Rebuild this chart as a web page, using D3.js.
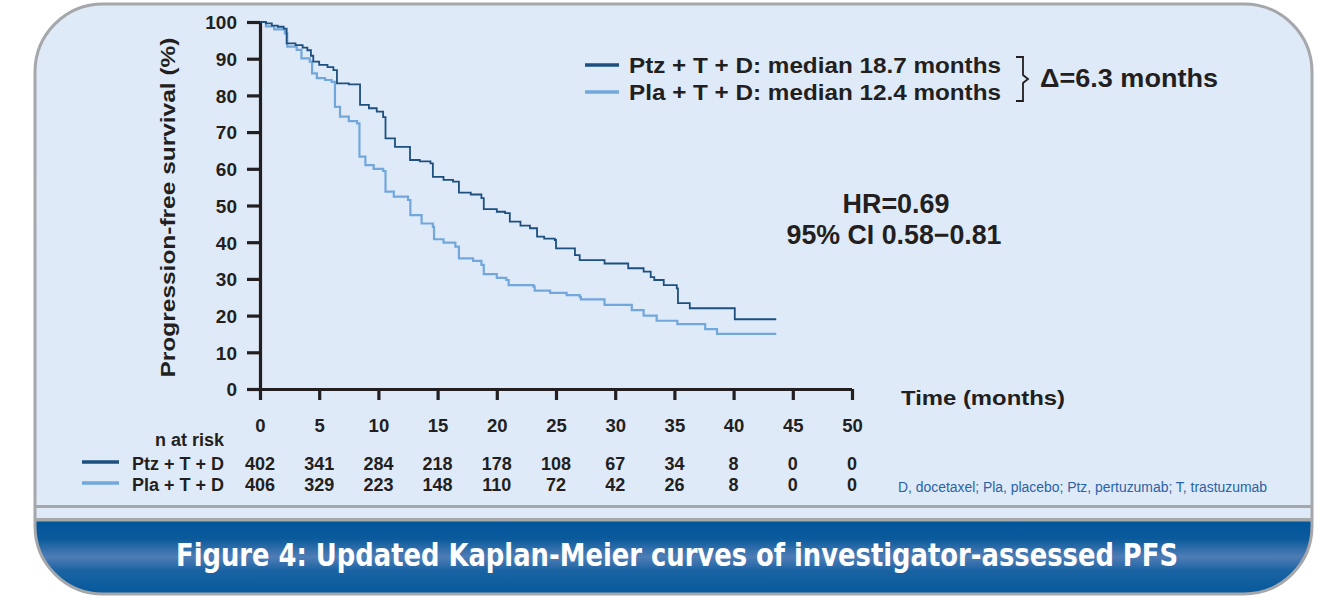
<!DOCTYPE html>
<html>
<head>
<meta charset="utf-8">
<script src="https://cdn.jsdelivr.net/npm/d3@7/dist/d3.min.js"></script>
<style>
  html, body { margin: 0; padding: 0; background: #ffffff; }
  svg { display: block; }
  text { font-family: "Liberation Sans", Arial, Helvetica, sans-serif; }
</style>
</head>
<body>
<svg id="chart" width="1338" height="613"></svg>
<script>
// ---------- data ----------
const xTicks = [0, 5, 10, 15, 20, 25, 30, 35, 40, 45, 50];
const yTicks = [0, 10, 20, 30, 40, 50, 60, 70, 80, 90, 100];

// Ptz + T + D : [time (months), survival (%)] - survival from that time onward
const ptzCurve = [
  [0, 100], [0.5, 99.6], [1.0, 99.0], [1.5, 98.7], [2.0, 98.2], [2.25, 94.2],
  [3.0, 93.7], [3.6, 93.0], [4.0, 92.3], [4.3, 90.8], [4.5, 89.2], [5.0, 88.3],
  [5.7, 87.7], [6.2, 86.9], [6.5, 83.3], [7.5, 83.0], [8.45, 77.4], [9.2, 76.5],
  [9.86, 75.6], [10.4, 74.1], [10.6, 68.3], [11.4, 66.0], [12.67, 62.4], [13.5, 62.0],
  [14.4, 61.5], [14.6, 57.8], [15.5, 57.0], [16.3, 56.5], [16.8, 53.5], [17.8, 53.0],
  [18.7, 52.0], [18.9, 49.0], [20.0, 48.3], [20.7, 47.9], [21.1, 45.6], [22.0, 44.5],
  [22.8, 43.8], [23.4, 41.5], [24.0, 41.0], [24.9, 40.6], [25.0, 38.3], [26.6, 36.5],
  [27.0, 35.1], [29.1, 34.2], [31.1, 32.9], [32.4, 32.0], [33.0, 30.5], [33.3, 29.7],
  [34.1, 28.3], [35.2, 27.4], [35.3, 23.4], [36.3, 22.0], [40.1, 19.0], [43.6, 19.0]
];

// Pla + T + D
const plaCurve = [
  [0, 100], [0.5, 98.8], [1.2, 98.0], [2.1, 96.9], [2.3, 93.3], [3.1, 92.4],
  [3.5, 90.1], [4.2, 89.2], [4.4, 86.0], [4.8, 84.7], [5.5, 84.2], [6.05, 83.7],
  [6.33, 76.9], [6.76, 74.2], [7.5, 73.0], [8.2, 72.4], [8.4, 63.3], [8.9, 61.0],
  [9.6, 60.0], [10.4, 59.4], [10.6, 53.8], [11.3, 52.4], [12.5, 51.5], [12.7, 47.4],
  [13.65, 45.1], [14.6, 44.2], [14.7, 40.8], [15.5, 39.9], [16.5, 38.8], [16.8, 35.6],
  [18.0, 34.9], [18.7, 33.8], [18.9, 31.3], [20.0, 30.3], [20.8, 29.7], [21.0, 28.3],
  [23.1, 27.9], [23.2, 26.8], [24.5, 26.2], [25.9, 25.6], [27.0, 25.1], [27.1, 24.4],
  [29.1, 22.9], [31.4, 21.5], [32.4, 20.0], [33.5, 18.6], [35.25, 17.7], [37.6, 16.3],
  [38.6, 15.0], [43.6, 15.0]
];

const riskPtz = [402, 341, 284, 218, 178, 108, 67, 34, 8, 0, 0];
const riskPla = [406, 329, 223, 148, 110, 72, 42, 26, 8, 0, 0];

const seriesNames = ["Ptz + T + D", "Pla + T + D"];
const legendLabels = ["Ptz + T + D: median 18.7 months", "Pla + T + D: median 12.4 months"];
const deltaLabel = "\u0394=6.3 months";
const hrLabels = ["HR=0.69", "95% CI 0.58\u22120.81"];
const yAxisTitle = "Progression-free survival (%)";
const xAxisTitle = "Time (months)";
const riskTitle = "n at risk";
const footnote = "D, docetaxel; Pla, placebo; Ptz, pertuzumab; T, trastuzumab";
const figTitle = "Figure 4: Updated Kaplan-Meier curves of investigator-assessed PFS";

// ---------- styling ----------
const darkBlue = "#1d4f7f";
const lightBlue = "#72a7dc";
const ink = "#231f20";
const bg = "#dfeaf8";
const frameGray = "#a5a7aa";

const svg = d3.select("#chart");

// ---------- frame ----------
const frame = { x: 35, y: 4, w: 1277, h: 590, r: 68 };
const defs = svg.append("defs");
defs.append("clipPath").attr("id", "frameClip")
  .append("rect").attr("x", frame.x).attr("y", frame.y).attr("width", frame.w)
  .attr("height", frame.h).attr("rx", frame.r).attr("ry", frame.r);

const grad = defs.append("linearGradient").attr("id", "bannerGrad")
  .attr("x1", 0).attr("y1", 0).attr("x2", 0).attr("y2", 1);
grad.append("stop").attr("offset", "0%").attr("stop-color", "#00569a");
grad.append("stop").attr("offset", "22%").attr("stop-color", "#0a5a9c");
grad.append("stop").attr("offset", "45%").attr("stop-color", "#4f7db6");
grad.append("stop").attr("offset", "62%").attr("stop-color", "#1a63a2");
grad.append("stop").attr("offset", "100%").attr("stop-color", "#00569a");

svg.append("rect").attr("x", frame.x).attr("y", frame.y).attr("width", frame.w)
  .attr("height", frame.h).attr("rx", frame.r).attr("ry", frame.r)
  .attr("fill", bg);

const clipG = svg.append("g").attr("clip-path", "url(#frameClip)");
clipG.append("rect").attr("x", frame.x).attr("y", 521).attr("width", frame.w)
  .attr("height", 80).attr("fill", "url(#bannerGrad)");
clipG.append("rect").attr("x", frame.x).attr("y", 505).attr("width", frame.w)
  .attr("height", 3).attr("fill", frameGray);
clipG.append("rect").attr("x", frame.x).attr("y", 518).attr("width", frame.w)
  .attr("height", 3.5).attr("fill", frameGray);

svg.append("rect").attr("x", frame.x).attr("y", frame.y).attr("width", frame.w)
  .attr("height", frame.h).attr("rx", frame.r).attr("ry", frame.r)
  .attr("fill", "none").attr("stroke", frameGray).attr("stroke-width", 3);

svg.append("text").attr("x", 677).attr("y", 566)
  .attr("text-anchor", "middle")
  .attr("fill", "#ffffff").attr("font-size", 32).attr("font-weight", "bold")
  .attr("textLength", 1002).attr("lengthAdjust", "spacingAndGlyphs")
  .style("font-family", "'Liberation Sans Narrow', 'DejaVu Sans Condensed', 'Liberation Sans', sans-serif")
  .text(figTitle);

// ---------- scales ----------
const x = d3.scaleLinear().domain([0, 50]).range([260, 852]);
const y = d3.scaleLinear().domain([0, 100]).range([389, 22]);

// ---------- axes ----------
const yAxis = d3.axisLeft(y).tickValues(yTicks).tickSize(13).tickPadding(10);
const gy = svg.append("g").attr("transform", `translate(${x(0)},0)`).call(yAxis);
const xAxis = d3.axisBottom(x).tickValues(xTicks).tickSize(11).tickPadding(32);
const gx = svg.append("g").attr("transform", `translate(0,${y(0)})`).call(xAxis);

[gx, gy].forEach(g => {
  g.select(".domain").attr("stroke", ink).attr("stroke-width", 3.2);
  g.selectAll(".tick line").attr("stroke", ink).attr("stroke-width", 3.2);
  g.selectAll(".tick text").attr("fill", ink).attr("font-size", 18.5)
    .attr("font-weight", "bold")
    .style("font-family", "'Liberation Sans', Arial, sans-serif");
});
gy.select(".domain").attr("d", `M0.5,${y(100)}V${y(0)}`);
gx.select(".domain").attr("d", `M${x(0)},0.5H${x(50)}`);
gy.selectAll(".tick text").attr("dy", "0.36em").attr("font-size", 19);
// x tick labels sit above the risk table
gx.selectAll(".tick text").attr("dy", 0).attr("y", 43);

svg.append("text")
  .attr("transform", `translate(175,${(y(0) + y(100)) / 2 + 2}) rotate(-90)`)
  .attr("text-anchor", "middle").attr("fill", ink)
  .attr("font-size", 21).attr("font-weight", "bold")
  .attr("textLength", 340).attr("lengthAdjust", "spacingAndGlyphs")
  .text(yAxisTitle);

svg.append("text").attr("x", 901).attr("y", 405)
  .attr("fill", ink).attr("font-size", 21).attr("font-weight", "bold")
  .attr("textLength", 164).attr("lengthAdjust", "spacingAndGlyphs")
  .text(xAxisTitle);

// ---------- curves ----------
const line = d3.line().x(d => x(d[0])).y(d => y(d[1])).curve(d3.curveStepAfter);
svg.append("path").datum(plaCurve).attr("d", line)
  .attr("fill", "none").attr("stroke", lightBlue).attr("stroke-width", 2.2);
svg.append("path").datum(ptzCurve).attr("d", line)
  .attr("fill", "none").attr("stroke", darkBlue).attr("stroke-width", 1.8);

// ---------- legend ----------
const legColors = [darkBlue, lightBlue];
const legY = [65, 92];
legendLabels.forEach((lab, i) => {
  svg.append("line").attr("x1", 585).attr("x2", 619).attr("y1", legY[i]).attr("y2", legY[i])
    .attr("stroke", legColors[i]).attr("stroke-width", 3.5);
  svg.append("text").attr("x", 629).attr("y", legY[i] + 8)
    .attr("fill", ink).attr("font-size", 22).attr("font-weight", "bold")
    .attr("textLength", 372).attr("lengthAdjust", "spacingAndGlyphs")
    .text(lab);
});
// brace
svg.append("path")
  .attr("d", "M1016,57 H1023 V75 L1028,79 L1023,83 V101 H1016")
  .attr("fill", "none").attr("stroke", ink).attr("stroke-width", 1.8);
svg.append("text").attr("x", 1040).attr("y", 87)
  .attr("fill", ink).attr("font-size", 25).attr("font-weight", "bold")
  .attr("textLength", 178).attr("lengthAdjust", "spacingAndGlyphs")
  .text(deltaLabel);

// ---------- HR ----------
svg.append("text").attr("x", 896).attr("y", 213).attr("text-anchor", "middle")
  .attr("fill", ink).attr("font-size", 27).attr("font-weight", "bold")
  .attr("textLength", 107).attr("lengthAdjust", "spacingAndGlyphs")
  .text(hrLabels[0]);
svg.append("text").attr("x", 894).attr("y", 244).attr("text-anchor", "middle")
  .attr("fill", ink).attr("font-size", 27).attr("font-weight", "bold")
  .attr("textLength", 215).attr("lengthAdjust", "spacingAndGlyphs")
  .text(hrLabels[1]);

// ---------- risk table ----------
svg.append("text").attr("x", 224).attr("y", 446).attr("text-anchor", "end")
  .attr("fill", ink).attr("font-size", 18).attr("font-weight", "bold").text(riskTitle);
const riskRows = [riskPtz, riskPla];
const rowBase = [470, 491];
const rowLineY = [462, 483];
riskRows.forEach((row, i) => {
  svg.append("line").attr("x1", 82).attr("x2", 119).attr("y1", rowLineY[i]).attr("y2", rowLineY[i])
    .attr("stroke", legColors[i]).attr("stroke-width", 3.5);
  svg.append("text").attr("x", 224).attr("y", rowBase[i]).attr("text-anchor", "end")
    .attr("fill", ink).attr("font-size", 18).attr("font-weight", "bold").text(seriesNames[i]);
  svg.selectAll(null).data(row).enter().append("text")
    .attr("x", (d, j) => x(xTicks[j])).attr("y", rowBase[i])
    .attr("text-anchor", "middle").attr("fill", ink)
    .attr("font-size", 18).attr("font-weight", "bold")
    .text(d => d);
});

// ---------- footnote ----------
svg.append("text").attr("x", 898).attr("y", 492)
  .attr("fill", "#2a62a6").attr("font-size", 14)
  .attr("textLength", 369).attr("lengthAdjust", "spacingAndGlyphs")
  .text(footnote);
</script>
</body>
</html>
